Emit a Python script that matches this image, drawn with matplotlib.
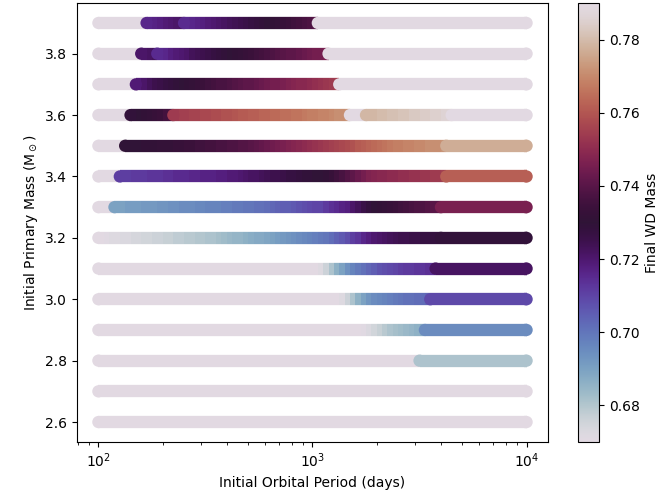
import numpy as np
import matplotlib.pyplot as plt
from matplotlib.collections import LineCollection
from matplotlib.colors import Normalize

# grid of initial orbital periods (days), same for every mass row
periods = np.logspace(2, 4, 81)

masses = [3.9, 3.8, 3.7, 3.6, 3.5, 3.4, 3.3, 3.2, 3.1, 3.0, 2.9, 2.8, 2.7, 2.6]

# final WD mass along each row,
# split into runs wherever the value jumps
wd_39 = [[0.67] * 9,
         [.716, .717, .718, .719, .720, .721, .722],
         [.715, .716, .717, .718, .719, .720, .721, .722, .723, .724,
          .725, .726, .727, .728, .729, .730, .731, .732, .733, .734,
          .735, .736, .737, .738, .739],
         [0.79] * 40]
wd_38 = [[0.67] * 8,
         [.721, .722, .723],
         [.715, .716, .718, .719, .720, .721, .723, .724, .725, .726,
          .727, .728, .729, .730, .731, .732, .733, .734, .735, .736,
          .737, .738, .739, .740, .741, .741, .742, .743, .744, .745,
          .745, .746],
         [0.79] * 38]
wd_37 = [[0.67] * 7,
         [.719, .721, .723, .725, .726, .727, .728, .729, .730, .731,
          .732, .733, .734, .735, .736, .737, .737, .738, .739, .740,
          .741, .741, .742, .743, .744, .745, .745, .746, .747, .748,
          .749, .749, .750, .751, .752, .753, .754, .755],
         [0.79] * 36]
wd_36 = [[0.67] * 6,
         [.729, .730, .731, .732, .733, .734, .736, .737],
         [.754, .755, .755, .756, .756, .757, .757, .758, .758, .759,
          .759, .760, .761, .761, .762, .762, .763, .763, .764, .764,
          .765, .765, .766, .766, .767, .768, .768, .769, .769, .770,
          .771, .771, .772],
         [0.79] * 3,
         [.779, .779, .780, .780, .781, .781, .782, .782, .783, .783,
          .784, .784, .785, .785, .786, .786],
         [0.79] * 15]
wd_35 = [[0.67] * 5,
         [.730, .730, .730, .731, .731, .731, .732, .732, .732, .733,
          .733, .734, .734, .735, .735, .736, .736, .737, .737, .738,
          .738, .739, .739, .740, .741, .742, .743, .744, .745, .746,
          .747, .748, .749, .750, .751, .752, .753, .754, .755, .756,
          .757, .758, .759, .761, .762, .763, .764, .765, .766, .767,
          .768, .768, .769, .769, .770, .770, .771, .771, .771, .772],
         [0.777] * 16]
wd_34 = [[0.67] * 4,
         [.711, .711, .712, .712, .712, .713, .713, .713, .714, .714,
          .715, .715, .715, .716, .716, .717, .717, .717, .718, .718,
          .719, .719, .720, .721, .722, .722, .723, .724, .725, .725,
          .726, .727, .727, .728, .729, .729, .730, .730, .731, .733,
          .735, .737, .739, .741, .743, .745, .747, .748, .749, .749,
          .750, .750, .751, .751, .752, .752, .753, .753, .754, .754,
          .755],
         [0.762] * 16]
wd_33 = [[0.67] * 3,
         [.690, .690, .691, .691, .691, .692, .692, .692, .693, .693,
          .694, .694, .695, .695, .695, .696, .696, .697, .697, .697,
          .698, .698, .699, .699, .700, .700, .701, .701, .702, .703,
          .704, .705, .705, .706, .707, .708, .709, .710, .710, .712,
          .714, .715, .717, .718, .721, .723, .726, .728, .730, .731,
          .732, .733, .734, .735, .736, .737, .738, .738, .739, .740,
          .740],
         [0.746] * 17]
wd_32 = [[.670, .671, .672, .672, .673, .673, .674, .674, .675, .675,
          .676, .676, .677, .677, .678, .678, .679, .679, .680, .680,
          .681, .681, .682, .683, .684, .685, .685, .686, .687, .688,
          .688, .689, .690, .691, .692, .693, .694, .695, .696, .697,
          .698, .699, .700, .702, .704, .706, .708, .711, .713, .716,
          .718, .720, .721, .722, .723, .724, .725, .725, .726, .726,
          .727, .727, .728, .728],
         [0.729] * 17]
wd_31 = [[0.67] * 41
         + [.672, .676, .681, .686, .690, .694, .697, .699, .701, .703,
            .705, .707, .708, .709, .710, .711, .712, .712, .713, .713,
            .714, .714],
         [0.722] * 18]
wd_30 = [[0.67] * 45
         + [.672, .676, .681, .686, .690, .693, .695, .696, .697, .698,
            .699, .700, .701, .701, .702, .702, .703],
         [0.709] * 19]
wd_29 = [[0.67] * 49
         + [.671, .673, .675, .677, .679, .681, .682, .683, .684, .685,
            .686, .687],
         [0.695] * 20]
wd_28 = [[0.67] * 60, [0.681] * 21]
wd_27 = [[0.67] * 81]
wd_26 = [[0.67] * 81]

rows = [wd_39, wd_38, wd_37, wd_36, wd_35, wd_34, wd_33,
        wd_32, wd_31, wd_30, wd_29, wd_28, wd_27, wd_26]

all_vals = np.concatenate([np.concatenate(r) for r in rows])
norm = Normalize(all_vals.min(), all_vals.max())

# each model is a short stroke to the next period; round dots mark the
# start of every run and the end of the row (like big overlapping markers)
segs, seg_c = [], []
dot_x, dot_y, dot_c = [], [], []
n = len(periods)
for m, runs in zip(masses, rows):
    row = np.concatenate(runs)
    for k in range(n):
        if k < n - 1:
            p0, p1 = periods[k], periods[k + 1]
        else:
            p0, p1 = np.sqrt(periods[k - 1] * periods[k]), periods[k]
        segs.append([(p0, m), (p1, m)])
        seg_c.append(row[k])
    starts = np.cumsum([0] + [len(r) for r in runs[:-1]])
    for k in list(starts) + [n - 1]:
        dot_x.append(periods[k])
        dot_y.append(m)
        dot_c.append(row[k])

fig = plt.figure(figsize=(6.66, 5.04), dpi=100)
ax = fig.add_axes([0.1156, 0.123, 0.7072, 0.871])
cax = fig.add_axes([0.868, 0.123, 0.0315, 0.871])

lc = LineCollection(segs, cmap='twilight', norm=norm, linewidths=8.85,
                    capstyle='butt', zorder=2)
lc.set_array(np.array(seg_c))
ax.add_collection(lc)
ax.scatter(dot_x, dot_y, c=dot_c, cmap='twilight', norm=norm, s=8.85 ** 2,
           linewidths=0, zorder=3)
ax.set_xscale('log')
ax.autoscale_view()
ax.set_xlabel('Initial Orbital Period (days)')
ax.set_ylabel(r'Initial Primary Mass (M$_\odot$)')

cb = fig.colorbar(lc, cax=cax)
cb.set_label('Final WD Mass')

fig.savefig('out.png', dpi=100)
